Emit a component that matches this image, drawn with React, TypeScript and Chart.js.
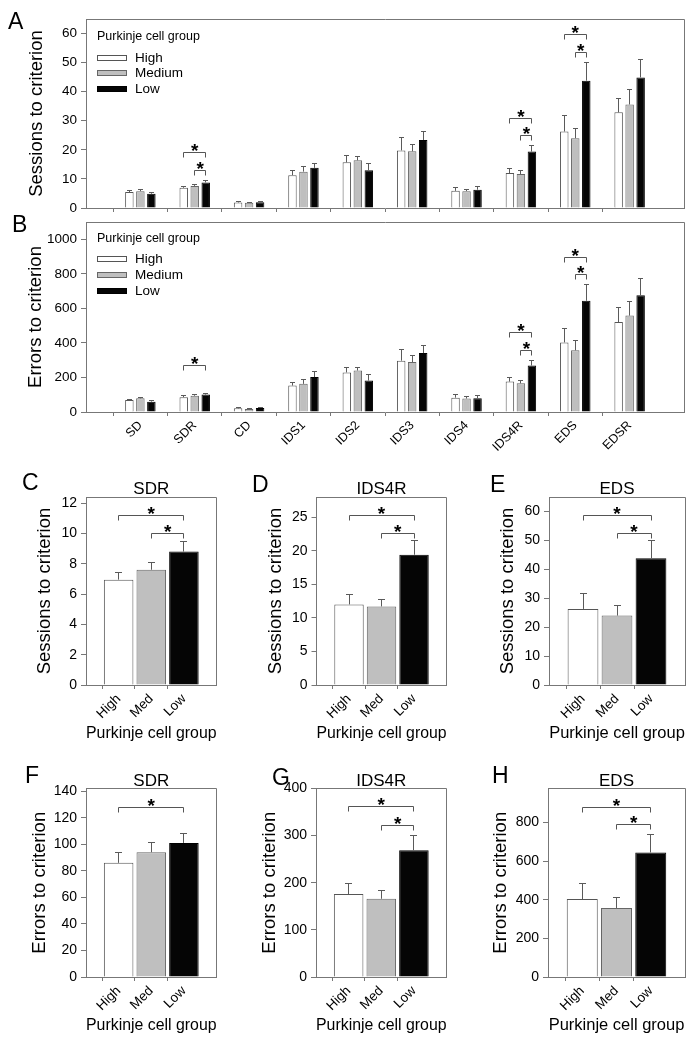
import React, { useEffect, useRef } from 'react';
import { Chart, registerables } from 'chart.js';

Chart.register(...registerables);

// ---------------- data ----------------
const stages = ['SD', 'SDR', 'CD', 'IDS1', 'IDS2', 'IDS3', 'IDS4', 'IDS4R', 'EDS', 'EDSR'];
const groupNames = ['High', 'Medium', 'Low'];
const groupShort = ['High', 'Med', 'Low'];
const legendTitle = 'Purkinje cell group';

// Sessions to criterion (mean and SEM)
const sessionsHigh = [5.5, 6.95, 1.9, 11.3, 15.7, 19.8, 5.9, 12.0, 26.3, 32.9];
const sessionsMedium = [5.8, 7.6, 1.8, 12.5, 16.4, 19.5, 5.8, 11.7, 24.0, 35.6];
const sessionsLow = [4.9, 8.8, 2.0, 13.8, 13.0, 23.4, 6.3, 19.4, 43.8, 44.9];
const sessionsHighSem = [0.4, 0.5, 0.2, 1.5, 2.3, 4.5, 1.1, 1.5, 5.5, 4.8];
const sessionsMediumSem = [0.4, 0.45, 0.2, 1.7, 1.2, 2.4, 0.6, 1.1, 3.5, 5.2];
const sessionsLowSem = [0.5, 0.65, 0.3, 1.5, 2.3, 2.8, 1.1, 2.1, 6.3, 6.3];

// Errors to criterion (mean and SEM)
const errorsHigh = [70, 86, 21, 153, 229, 297, 83, 176, 403, 521];
const errorsMedium = [79, 94, 17, 163, 240, 289, 78, 166, 357, 558];
const errorsLow = [60, 101, 23, 202, 182, 341, 79, 269, 644, 676];
const errorsHighSem = [4, 8, 4, 19, 31, 65, 16, 22, 83, 82];
const errorsMediumSem = [4, 7, 2, 23, 16, 40, 13, 18, 56, 80];
const errorsLowSem = [6, 7, 4, 31, 33, 43, 14, 32, 95, 97];

// significance brackets: [stage index, from group, to group, height]
const sessionsBrackets: number[][] = [[1, 0, 2, 19], [1, 1, 2, 13], [7, 0, 2, 30.8], [7, 1, 2, 24.8], [8, 0, 2, 59.6], [8, 1, 2, 53.6]];
const errorsBrackets: number[][] = [[1, 0, 2, 270], [7, 0, 2, 461], [7, 1, 2, 356], [8, 0, 2, 897], [8, 1, 2, 795]];
// small panels: [from group, to group, height]
const bracketsC: number[][] = [[0, 2, 11.2], [1, 2, 10.0]];
const bracketsD: number[][] = [[0, 2, 25.2], [1, 2, 22.5]];
const bracketsE: number[][] = [[0, 2, 58.5], [1, 2, 52.5]];
const bracketsF: number[][] = [[0, 2, 128]];
const bracketsG: number[][] = [[0, 2, 361], [1, 2, 321]];
const bracketsH: number[][] = [[0, 2, 879], [1, 2, 788]];

// y axis: upper limit and tick values
const maxA = 65;
const ticksA = [0, 10, 20, 30, 40, 50, 60];
const maxB = 1100;
const ticksB = [0, 200, 400, 600, 800, 1000];
const maxC = 12.4;
const ticksC = [0, 2, 4, 6, 8, 10, 12];
const maxD = 28;
const ticksD = [0, 5, 10, 15, 20, 25];
const maxE = 65;
const ticksE = [0, 10, 20, 30, 40, 50, 60];
const maxF = 142;
const ticksF = [0, 20, 40, 60, 80, 100, 120, 140];
const maxG = 400;
const ticksG = [0, 100, 200, 300, 400];
const maxH = 975;
const ticksH = [0, 200, 400, 600, 800];

// ---------------- styles ----------------
const FONT = '"Liberation Sans", Arial, Helvetica, sans-serif';
const FILL = ['#ffffff', '#bfbfbf', '#050505'];
const EDGE = ['#555555', '#666666', '#000000'];
const AXIS = '#777777';
const ERR = '#5a5a5a';

type Box = { left: number; top: number; width: number; height: number };
type Area = { left: number; top: number; right: number; bottom: number };
type DS = { label: string; data: (number | null)[]; sem: (number | null)[]; bg: string | string[]; border: string | string[] };
type Bracket = { a: [number, number]; b: [number, number]; y: number };

interface Spec {
  box: Box;
  area: Area;
  labels: string[];
  datasets: DS[];
  barPct: number;
  catPct: number;
  yMax: number;
  yTicks: number[];
  yTitle: string;
  yTitleX: number;
  tickSize: number;
  xLabels: boolean;
  xLabelSize: number;
  xTitle?: string;
  xTitleY?: number;
  letter: string;
  letterX: number;
  letterY: number;
  subtitle?: string;
  subtitleY?: number;
  legend?: { x: number; titleY: number; itemY: number[] };
  brackets: Bracket[];
  cap: number;
  bTick: number;
}

const pad = (arr: number[]) => [null, ...arr, null] as (number | null)[];
const align = (p: number) => Math.round(p - 0.5) + 0.5;

function makePlugin(spec: Spec) {
  return {
    id: 'panelDecor',
    afterDatasetsDraw(chart: any) {
      const ctx = chart.ctx;
      const ys = chart.scales.y;
      ctx.save();
      ctx.strokeStyle = ERR;
      ctx.lineWidth = 1;
      spec.datasets.forEach((ds, di) => {
        const meta = chart.getDatasetMeta(di);
        ds.data.forEach((v, i) => {
          const s = ds.sem[i];
          if (v == null || s == null) return;
          const el = meta.data[i];
          const x = align(el.x);
          const y0 = ys.getPixelForValue(v);
          const y1 = align(ys.getPixelForValue(v + s));
          ctx.beginPath();
          ctx.moveTo(x, y0);
          ctx.lineTo(x, y1);
          ctx.moveTo(x - spec.cap, y1);
          ctx.lineTo(x + spec.cap, y1);
          ctx.stroke();
        });
      });
      ctx.restore();
    },
    afterDraw(chart: any) {
      const ctx = chart.ctx;
      const a = chart.chartArea;
      const ys = chart.scales.y;
      const ox = spec.box.left;
      const oy = spec.box.top;
      ctx.save();
      // frame (top + right)
      ctx.strokeStyle = AXIS;
      ctx.lineWidth = 1;
      ctx.beginPath();
      ctx.moveTo(align(a.left), align(a.top));
      ctx.lineTo(align(a.right), align(a.top));
      ctx.lineTo(align(a.right), align(a.bottom));
      ctx.stroke();

      // significance brackets
      spec.brackets.forEach((b) => {
        const xa = chart.getDatasetMeta(b.a[0]).data[b.a[1]].x;
        const xb = chart.getDatasetMeta(b.b[0]).data[b.b[1]].x;
        const yy = align(ys.getPixelForValue(b.y));
        ctx.strokeStyle = '#555555';
        ctx.beginPath();
        ctx.moveTo(align(xa), yy + spec.bTick);
        ctx.lineTo(align(xa), yy);
        ctx.lineTo(align(xb), yy);
        ctx.lineTo(align(xb), yy + spec.bTick);
        ctx.stroke();
        ctx.fillStyle = '#000';
        ctx.font = `bold 19px ${FONT}`;
        ctx.textAlign = 'center';
        ctx.textBaseline = 'alphabetic';
        ctx.fillText('*', (xa + xb) / 2, yy + 4.5);
      });

      // legend
      if (spec.legend) {
        const L = spec.legend;
        ctx.textAlign = 'left';
        ctx.textBaseline = 'middle';
        ctx.fillStyle = '#000';
        ctx.font = `12.5px ${FONT}`;
        ctx.fillText(legendTitle, L.x - ox, L.titleY - oy);
        groupNames.forEach((g, i) => {
          const cy = Math.round(L.itemY[i] - oy);
          ctx.fillStyle = FILL[i];
          ctx.fillRect(L.x - ox, cy - 3, 30, 6);
          ctx.strokeStyle = EDGE[i];
          ctx.strokeRect(L.x - ox + 0.5, cy - 3 + 0.5, 29, 5);
          ctx.fillStyle = '#000';
          ctx.font = `13.5px ${FONT}`;
          ctx.fillText(g, L.x - ox + 38, cy);
        });
      }

      // panel letter
      ctx.fillStyle = '#000';
      ctx.textAlign = 'left';
      ctx.textBaseline = 'alphabetic';
      ctx.font = `23px ${FONT}`;
      ctx.fillText(spec.letter, spec.letterX - ox, spec.letterY - oy);

      // subtitle
      if (spec.subtitle) {
        ctx.font = `17px ${FONT}`;
        ctx.textAlign = 'center';
        ctx.fillText(spec.subtitle, (a.left + a.right) / 2, (spec.subtitleY as number) - oy);
      }
      ctx.restore();
    },
  };
}

function buildConfig(spec: Spec): any {
  const padTop = spec.area.top - spec.box.top;
  const padRight = spec.box.left + spec.box.width - spec.area.right;
  const yW = spec.area.left - spec.box.left;
  const xH = spec.box.top + spec.box.height - spec.area.bottom;
  const last = spec.labels.length - 1;
  const yTitleSize = 18.5;
  const xTitleSize = 16.5;
  const xTitlePad = spec.xTitle ? spec.box.top + spec.box.height - (spec.xTitleY as number) - (xTitleSize * 1.2) / 2 : 0;
  return {
    type: 'bar',
    data: {
      labels: spec.labels,
      datasets: spec.datasets.map((d) => ({
        label: d.label,
        data: d.data,
        backgroundColor: d.bg,
        borderColor: d.border,
        borderWidth: 1,
        barPercentage: spec.barPct,
        categoryPercentage: spec.catPct,
      })),
    },
    options: {
      responsive: false,
      animation: false,
      devicePixelRatio: 1,
      layout: { padding: { left: 0, top: padTop, right: padRight, bottom: 0 } },
      plugins: {
        legend: { display: false },
        tooltip: { enabled: false },
        title: { display: false },
      },
      scales: {
        x: {
          type: 'category',
          offset: false,
          grid: {
            display: true,
            drawOnChartArea: false,
            drawTicks: true,
            tickLength: 4,
            tickColor: (c: any) => (c.index === 0 || c.index === last ? 'rgba(0,0,0,0)' : AXIS),
          },
          border: { display: true, color: AXIS, width: 1 },
          ticks: {
            display: spec.xLabels,
            autoSkip: false,
            minRotation: 45,
            maxRotation: 45,
            padding: 2,
            color: '#000',
            font: { family: FONT, size: spec.xLabelSize },
          },
          title: spec.xTitle
            ? { display: true, text: spec.xTitle, color: '#000', font: { family: FONT, size: xTitleSize }, padding: { top: 0, bottom: xTitlePad } }
            : { display: false },
          afterFit: (s: any) => {
            s.height = xH;
          },
        },
        y: {
          min: 0,
          max: spec.yMax,
          grid: { display: true, drawOnChartArea: false, drawTicks: true, tickLength: 5, tickColor: AXIS },
          border: { display: true, color: AXIS, width: 1 },
          afterBuildTicks: (s: any) => {
            s.ticks = spec.yTicks.map((v) => ({ value: v }));
          },
          ticks: {
            padding: 4,
            color: '#000',
            font: { family: FONT, size: spec.tickSize },
            callback: (v: any) => String(v),
          },
          title: {
            display: true,
            text: spec.yTitle,
            color: '#000',
            font: { family: FONT, size: yTitleSize },
            padding: { top: spec.yTitleX - spec.box.left - (yTitleSize * 1.2) / 2, bottom: 0 },
          },
          afterFit: (s: any) => {
            s.width = yW;
          },
        },
      },
    },
    plugins: [makePlugin(spec)],
  };
}

// ---------------- panel specs ----------------
function groupedSpec(
  box: Box, area: Area, vals: number[][], sems: number[][], br: number[][], yMax: number, yTicks: number[], yTitle: string, yTitleX: number,
  letter: string, letterX: number, letterY: number, legend: { x: number; titleY: number; itemY: number[] }, xLabels: boolean
): Spec {
  return {
    box, area,
    labels: ['', ...stages, ''],
    datasets: vals.map((v, g) => ({ label: groupNames[g], data: pad(v), sem: pad(sems[g]), bg: FILL[g], border: EDGE[g] })),
    barPct: 0.77, catPct: 0.607,
    yMax, yTicks, yTitle, yTitleX,
    tickSize: 13.5, xLabels, xLabelSize: 12.5,
    letter, letterX, letterY, legend,
    brackets: br.map(([s, g1, g2, y]) => ({ a: [g1, s + 1] as [number, number], b: [g2, s + 1] as [number, number], y })),
    cap: 2.5, bTick: 5,
  };
}

function smallSpec(
  box: Box, area: Area, stage: number, vals: number[][], sems: number[][], br: number[][], yMax: number, yTicks: number[], yTitle: string, yTitleX: number,
  letter: string, letterX: number, letterY: number, subtitleY: number, xTitleY: number
): Spec {
  return {
    box, area,
    labels: ['', ...groupShort, ''],
    datasets: [{
      label: legendTitle,
      data: pad(vals.map((v) => v[stage])),
      sem: pad(sems.map((s) => s[stage])),
      bg: ['#fff', FILL[0], FILL[1], FILL[2], '#fff'],
      border: ['#555', EDGE[0], EDGE[1], EDGE[2], '#555'],
    }],
    barPct: 0.905, catPct: 1,
    yMax, yTicks, yTitle, yTitleX,
    tickSize: 14, xLabels: true, xLabelSize: 13.5,
    xTitle: legendTitle, xTitleY,
    letter, letterX, letterY,
    subtitle: stages[stage], subtitleY,
    brackets: br.map(([g1, g2, y]) => ({ a: [0, g1 + 1] as [number, number], b: [0, g2 + 1] as [number, number], y })),
    cap: 3.5, bTick: 5,
  };
}

const sessVals = [sessionsHigh, sessionsMedium, sessionsLow];
const sessSems = [sessionsHighSem, sessionsMediumSem, sessionsLowSem];
const errVals = [errorsHigh, errorsMedium, errorsLow];
const errSems = [errorsHighSem, errorsMediumSem, errorsLowSem];
const SESS = 'Sessions to criterion';
const ERRS = 'Errors to criterion';

const specs: Spec[] = [
  groupedSpec({ left: 0, top: 0, width: 700, height: 222 }, { left: 86, top: 19, right: 684, bottom: 208 }, sessVals, sessSems, sessionsBrackets, maxA, ticksA, SESS, 37, 'A', 8, 28.5, { x: 97, titleY: 37, itemY: [57.5, 73, 89] }, false),
  groupedSpec({ left: 0, top: 206, width: 700, height: 254 }, { left: 86, top: 222, right: 684, bottom: 412 }, errVals, errSems, errorsBrackets, maxB, ticksB, ERRS, 35.5, 'B', 12, 232, { x: 97, titleY: 239, itemY: [258.5, 274.5, 290.5] }, true),
  smallSpec({ left: 0, top: 460, width: 230, height: 285 }, { left: 86, top: 497, right: 223, bottom: 685 }, 1, sessVals, sessSems, bracketsC, maxC, ticksC, SESS, 45, 'C', 22, 490, 494, 733),
  smallSpec({ left: 230, top: 460, width: 230, height: 285 }, { left: 316.5, top: 497, right: 453, bottom: 685 }, 7, sessVals, sessSems, bracketsD, maxD, ticksD, SESS, 276, 'D', 252, 492, 494, 733),
  smallSpec({ left: 460, top: 460, width: 240, height: 285 }, { left: 549, top: 497, right: 685, bottom: 685 }, 8, sessVals, sessSems, bracketsE, maxE, ticksE, SESS, 507.5, 'E', 490, 492, 494, 733),
  smallSpec({ left: 0, top: 745, width: 230, height: 300 }, { left: 86, top: 788.5, right: 223, bottom: 977 }, 1, errVals, errSems, bracketsF, maxF, ticksF, ERRS, 39.5, 'F', 25, 783, 785.5, 1025),
  smallSpec({ left: 230, top: 745, width: 230, height: 300 }, { left: 316, top: 788.5, right: 453, bottom: 977 }, 7, errVals, errSems, bracketsG, maxG, ticksG, ERRS, 269.5, 'G', 272, 785, 785.5, 1025),
  smallSpec({ left: 460, top: 745, width: 240, height: 300 }, { left: 548, top: 788.5, right: 685, bottom: 977 }, 8, errVals, errSems, bracketsH, maxH, ticksH, ERRS, 500.5, 'H', 492, 783, 785.5, 1025),
];

function Panel({ spec }: { spec: Spec }) {
  const ref = useRef<HTMLCanvasElement>(null);
  useEffect(() => {
    const chart = new Chart(ref.current as HTMLCanvasElement, buildConfig(spec));
    return () => chart.destroy();
  }, [spec]);
  return (
    <canvas
      ref={ref}
      width={spec.box.width}
      height={spec.box.height}
      style={{ position: 'absolute', left: spec.box.left, top: spec.box.top, width: spec.box.width, height: spec.box.height }}
    />
  );
}

export default function App() {
  return (
    <div style={{ position: 'absolute', left: 0, top: 0, width: 700, height: 1045, background: '#fff', overflow: 'hidden' }}>
      {specs.map((s, i) => (
        <Panel key={i} spec={s} />
      ))}
    </div>
  );
}
